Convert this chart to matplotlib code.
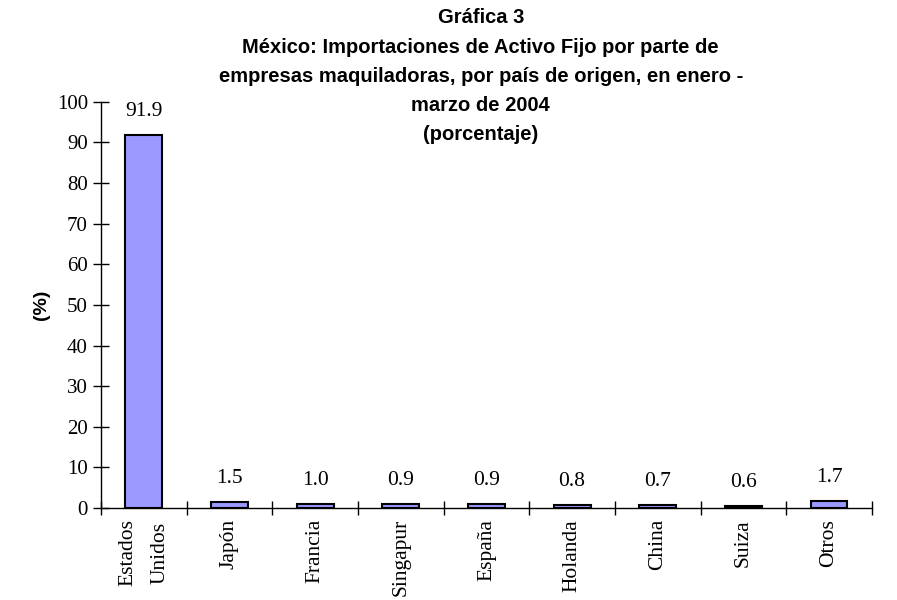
import matplotlib.pyplot as plt

paises = ["Estados\nUnidos", "Japón", "Francia", "Singapur", "España",
          "Holanda", "China", "Suiza", "Otros"]
porcentaje = [91.9, 1.5, 1.0, 0.9, 0.9, 0.8, 0.7, 0.6, 1.7]
yticks = list(range(0, 101, 10))

titulo = ("Gráfica 3\n"
          "México: Importaciones de Activo Fijo por parte de\n"
          "empresas maquiladoras, por país de origen, en enero -\n"
          "marzo de 2004\n"
          "(porcentaje)")

serif = "Liberation Serif"
sans = "Liberation Sans"

fig = plt.figure(figsize=(8.97, 6), dpi=100)
ax = fig.add_axes([0.1126, 0.1533, 0.8594, 0.677])

x = list(range(len(paises)))
bars = ax.bar(x, porcentaje, width=0.43, color="#9999FF",
              edgecolor="black", linewidth=1.5, zorder=3)

for xi, v in zip(x, porcentaje):
    ax.annotate(f"{v:.1f}", (xi, v), xytext=(0, 10), textcoords="offset points",
                ha="center", va="bottom", fontsize=15.5, family=serif)

ax.set_xlim(-0.5, len(paises) - 0.5)
ax.set_ylim(0, 100)
ax.set_yticks(yticks)
ax.set_yticklabels([str(t) for t in yticks], family=serif, fontsize=15)

# ticks between categories, labels at centres
ax.set_xticks([i - 0.5 for i in range(len(paises) + 1)])
ax.set_xticklabels([])
ax.set_xticks(x, minor=True)
ax.set_xticklabels(paises, minor=True, rotation=90, family=serif,
                   fontsize=15.5, va="top", ha="center", linespacing=1.9)
ax.tick_params(axis="x", which="minor", length=0, pad=8)
ax.tick_params(axis="x", which="major", direction="inout", length=10, width=1)
ax.tick_params(axis="y", direction="inout", length=11, width=1, pad=4)

for s in ["top", "right"]:
    ax.spines[s].set_visible(False)
ax.spines["left"].set_linewidth(1)
ax.spines["bottom"].set_linewidth(1)

ax.set_ylabel("(%)", family=sans, fontweight="bold", fontsize=14, labelpad=5)

fig.text(0.536, 0.986, titulo, ha="center", va="top", family=sans,
         fontweight="bold", fontsize=14.5, linespacing=1.68)

fig.savefig("out.png", dpi=100)
